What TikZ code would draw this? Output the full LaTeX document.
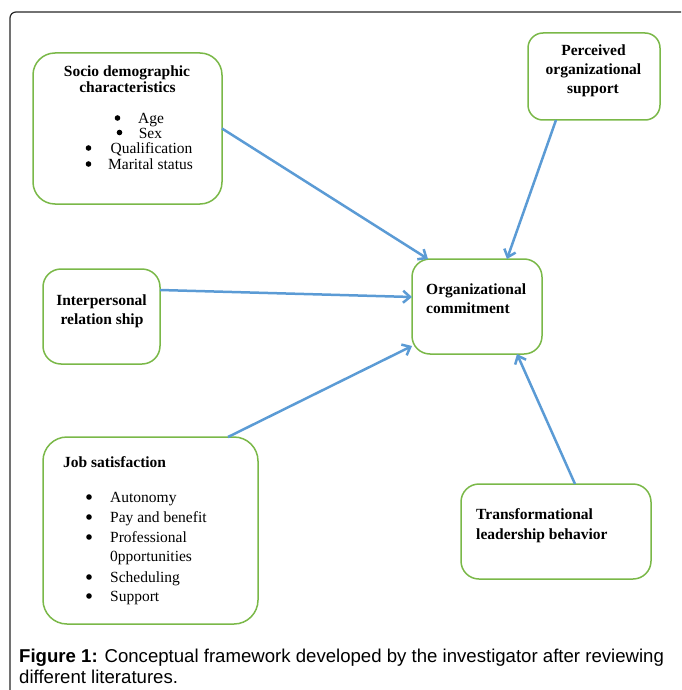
\documentclass[tikz,border=0pt]{standalone}
\usepackage{fontspec}
\setmainfont{Liberation Serif}
\newfontfamily\capfont{Liberation Sans}
\usetikzlibrary{arrows.meta}
\definecolor{boxgreen}{RGB}{122,184,72}
\definecolor{arrowblue}{RGB}{91,155,213}
\begin{document}
\begin{tikzpicture}[x=1pt,y=-1pt,
  box/.style={draw=boxgreen,line width=1.5pt,rounded corners=18pt,fill=white,inner sep=0pt,outer sep=0pt},
  ctxt/.style={inner sep=0pt,anchor=base,font=\fontsize{15.5}{18}\selectfont\bfseries},
  ltxt/.style={inner sep=0pt,anchor=base west,font=\fontsize{15.5}{18}\selectfont\bfseries},
  item/.style={inner sep=0pt,anchor=base west,font=\fontsize{15.5}{18}\selectfont},
  dotmark/.style={fill=black},
  link/.style={draw=arrowblue,line width=2.5pt,-{Straight Barb[length=7pt,width=12pt]}},
  captext/.style={inner sep=0pt,anchor=base west,font=\capfont\fontsize{18.6}{21}\selectfont}
]
\useasboundingbox (0,0) rectangle (681,690);
% outer frame
\draw[line width=1.2pt,draw=black!85,rounded corners=6pt] (681,12) -- (10,12) -- (10,690);

% boxes
\node[box,rounded corners=22pt,minimum width=189pt,minimum height=151pt] (socio) at (127.5,128.5) {};
\node[box,rounded corners=15pt,minimum width=132pt,minimum height=87pt] (perc) at (594,76.5) {};
\node[box,minimum width=117pt,minimum height=95pt] (inter) at (101.5,316.5) {};
\node[box,minimum width=130pt,minimum height=95pt] (org) at (477,306.5) {};
\node[box,rounded corners=24pt,minimum width=215pt,minimum height=187pt] (job) at (150.5,530.5) {};
\node[box,minimum width=190pt,minimum height=95pt] (trans) at (556,531.5) {};

% socio text
\node[ctxt] (s1) at (127,77) {Socio demographic};
\node[ctxt] (s2) at (127.5,93) {characteristics};
\node[inner sep=0pt,anchor=base,align=center,
      font=\fontsize{15.5}{15.3}\selectfont] (slist) at (139.5,169)
  {\hspace*{23pt}Age\\
   \hspace*{22pt}Sex\\
   \hspace*{24pt}Qualification\\
   \hspace*{22pt}Marital status};
\fill[dotmark] (117.5,118) circle (2.8pt);
\fill[dotmark] (119.5,132.5) circle (2.8pt);
\fill[dotmark] (88.5,148) circle (2.8pt);
\fill[dotmark] (88.5,164) circle (2.8pt);

% perceived
\node[ctxt] (p1) at (593.5,56) {Perceived};
\node[ctxt] (p2) at (593.5,75) {organizational};
\node[ctxt] (p3) at (593,94) {support};

% interpersonal
\node[ctxt] (i1) at (101.5,305) {Interpersonal};
\node[ctxt] (i2) at (102,324) {relation ship};

% organizational
\node[ltxt] (o1) at (426,294) {Organizational};
\node[ltxt] (o2) at (426,313) {commitment};

% job satisfaction
\node[ltxt] (j0) at (63,467) {Job satisfaction};
\node[item] (j1) at (110,502) {Autonomy};
\node[item] (j2) at (110,522) {Pay and benefit};
\node[item] (j3) at (110,542) {Professional};
\node[item] (j4) at (110,561) {0pportunities};
\node[item] (j5) at (110,582) {Scheduling};
\node[item] (j6) at (110,601) {Support};
\foreach \yy in {497,517,537,577,596} \fill[dotmark] (89,\yy) circle (2.8pt);

% transformational
\node[ltxt] (t1) at (476,519) {Transformational};
\node[ltxt] (t2) at (476,539) {leadership behavior};

% arrows
\draw[link] (socio.east) -- ([xshift=16pt]org.north west);
\draw[link] ([xshift=-38pt]perc.south) -- ([xshift=30pt]org.north);
\draw[link] ([yshift=26.5pt]inter.east) -- ([yshift=9.5pt]org.west);
\draw[link] ([xshift=77.5pt]job.north) -- ([yshift=-39.5pt]org.west);
\draw[link] ([xshift=19pt]trans.north) -- ([xshift=40pt]org.south);

% caption
\node[captext] (c1) at (19,662) {\textbf{Figure 1:} Conceptual framework developed by the investigator after reviewing};
\node[captext] (c2) at (19,683) {different literatures.};
\end{tikzpicture}
\end{document}
